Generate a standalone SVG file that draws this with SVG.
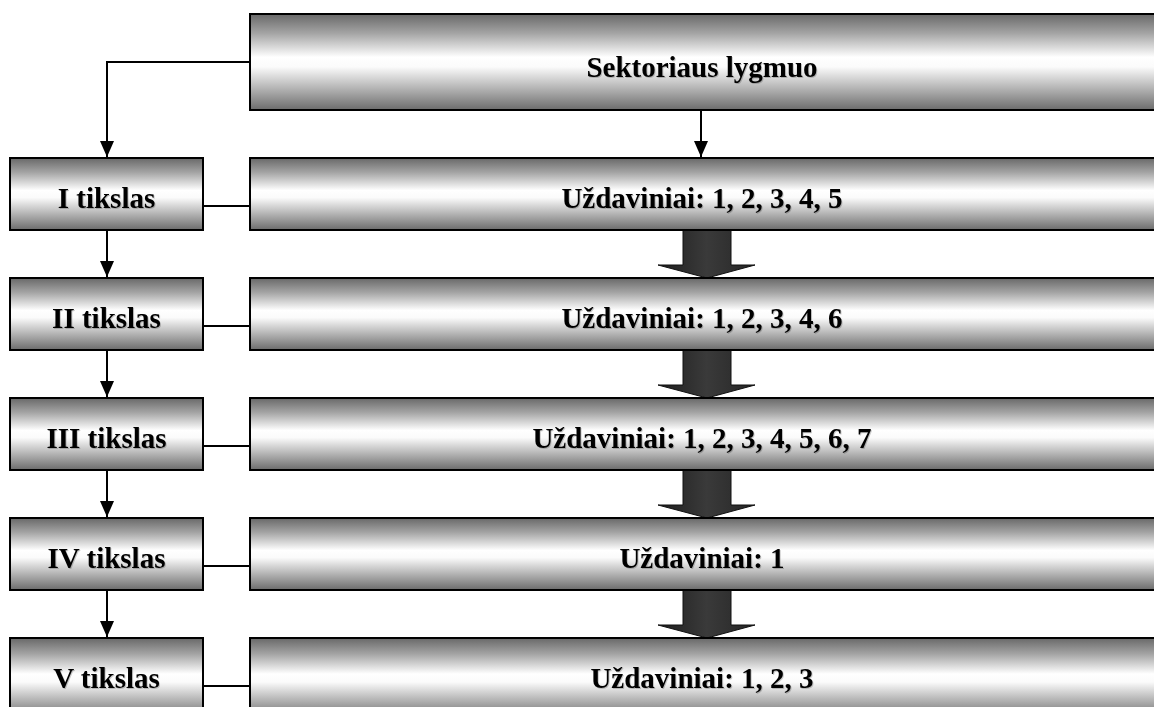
<svg xmlns="http://www.w3.org/2000/svg" width="1154" height="707" viewBox="0 0 1154 707">
  <defs>
    <!-- cylinder-like shading for all boxes -->
    <linearGradient id="tube" x1="0" y1="0" x2="0" y2="1">
      <stop offset="0" stop-color="#686868"/>
      <stop offset="0.2" stop-color="#a4a4a4"/>
      <stop offset="0.45" stop-color="#ffffff"/>
      <stop offset="0.55" stop-color="#fbfbfb"/>
      <stop offset="0.85" stop-color="#9c9c9c"/>
      <stop offset="1" stop-color="#6c6c6c"/>
    </linearGradient>
    <linearGradient id="blockArrow" x1="0" y1="0" x2="1" y2="0">
      <stop offset="0" stop-color="#1e1e1e"/>
      <stop offset="0.5" stop-color="#3a3a3a"/>
      <stop offset="1" stop-color="#262626"/>
    </linearGradient>
    <filter id="soft" x="-5%" y="-20%" width="110%" height="140%">
      <feDropShadow dx="1" dy="1" stdDeviation="0.6" flood-color="#000" flood-opacity="0.2"/>
    </filter>
    <marker id="head" viewBox="0 0 16 14" refX="16" refY="7" markerWidth="16" markerHeight="14" markerUnits="userSpaceOnUse" orient="auto">
      <path d="M0,0 L16,7 L0,14 Z" fill="#000"/>
    </marker>
  </defs>
  <style>
    .box { fill: url(#tube); stroke: #000; stroke-width: 2; }
    .lbl { font-family: "Liberation Serif", "Times New Roman", serif; font-weight: bold; font-size: 29px; fill: #000; text-anchor: middle; filter: url(#soft); }
    .link { fill: none; stroke: #000; stroke-width: 2; }
    .big { fill: url(#blockArrow); stroke: #111; stroke-width: 1; }
  </style>

  <rect width="1154" height="707" fill="#fff"/>

  <!-- connectors -->
  <g id="connectors">
    <path class="link" d="M250,62 H107 V157" marker-end="url(#head)"/>
    <path class="link" d="M701,110 V157" marker-end="url(#head)"/>
    <path class="link" d="M107,230 V277" marker-end="url(#head)"/>
    <path class="link" d="M107,350 V397" marker-end="url(#head)"/>
    <path class="link" d="M107,470 V517" marker-end="url(#head)"/>
    <path class="link" d="M107,590 V637" marker-end="url(#head)"/>
    <path class="link" d="M203,206 H250"/>
    <path class="link" d="M203,326 H250"/>
    <path class="link" d="M203,446 H250"/>
    <path class="link" d="M203,566 H250"/>
    <path class="link" d="M203,686 H250"/>
    <path class="big" d="M683,230 H731 V265 H755 L707,278 L658,265 H683 Z"/>
    <path class="big" d="M683,350 H731 V385 H755 L707,398 L658,385 H683 Z"/>
    <path class="big" d="M683,470 H731 V505 H755 L707,518 L658,505 H683 Z"/>
    <path class="big" d="M683,590 H731 V625 H755 L707,638 L658,625 H683 Z"/>
  </g>

  <g id="sector">
    <rect class="box" x="250" y="14" width="912" height="96"/>
    <text class="lbl" x="702" y="77">Sektoriaus lygmuo</text>
  </g>

  <g id="goal-1">
    <rect class="box" x="10" y="158" width="193" height="72"/>
    <text class="lbl" x="106.5" y="208">I tikslas</text>
  </g>
  <g id="tasks-1">
    <rect class="box" x="250" y="158" width="912" height="72"/>
    <text class="lbl" x="702" y="208">Uždaviniai: 1, 2, 3, 4, 5</text>
  </g>

  <g id="goal-2">
    <rect class="box" x="10" y="278" width="193" height="72"/>
    <text class="lbl" x="106.5" y="328">II tikslas</text>
  </g>
  <g id="tasks-2">
    <rect class="box" x="250" y="278" width="912" height="72"/>
    <text class="lbl" x="702" y="328">Uždaviniai: 1, 2, 3, 4, 6</text>
  </g>

  <g id="goal-3">
    <rect class="box" x="10" y="398" width="193" height="72"/>
    <text class="lbl" x="106.5" y="448">III tikslas</text>
  </g>
  <g id="tasks-3">
    <rect class="box" x="250" y="398" width="912" height="72"/>
    <text class="lbl" x="702" y="448">Uždaviniai: 1, 2, 3, 4, 5, 6, 7</text>
  </g>

  <g id="goal-4">
    <rect class="box" x="10" y="518" width="193" height="72"/>
    <text class="lbl" x="106.5" y="568">IV tikslas</text>
  </g>
  <g id="tasks-4">
    <rect class="box" x="250" y="518" width="912" height="72"/>
    <text class="lbl" x="702" y="568">Uždaviniai: 1</text>
  </g>

  <g id="goal-5">
    <rect class="box" x="10" y="638" width="193" height="80"/>
    <text class="lbl" x="106.5" y="688">V tikslas</text>
  </g>
  <g id="tasks-5">
    <rect class="box" x="250" y="638" width="912" height="80"/>
    <text class="lbl" x="702" y="688">Uždaviniai: 1, 2, 3</text>
  </g>
</svg>
